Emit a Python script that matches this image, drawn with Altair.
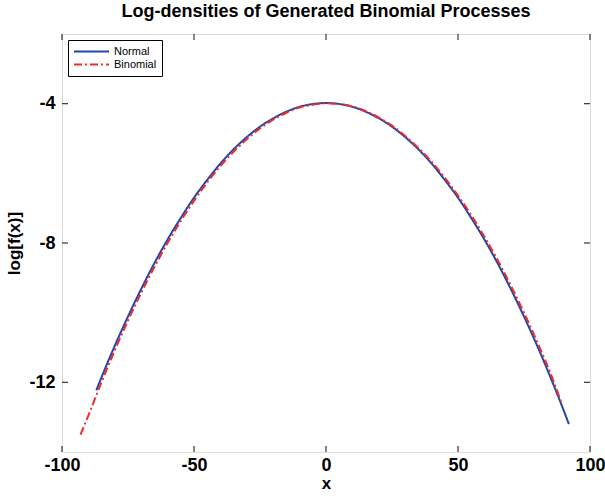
import altair as alt
import pandas as pd

# Normal log-density
normal_x = [-87, -85, -80, -75, -70, -65, -60, -55, -50, -45, -40, -35, -30, -25, -20, -15, -10, -5,
            0, 5, 10, 15, 20, 25, 30, 35, 40, 45, 50, 55, 60, 65, 70, 75, 80, 85, 90, 92]
normal_y = [-12.23, -11.85, -10.95, -10.11, -9.32, -8.58, -7.90, -7.28, -6.70, -6.19, -5.72, -5.31,
            -4.96, -4.66, -4.42, -4.23, -4.09, -4.01, -3.98, -4.01, -4.09, -4.23, -4.42, -4.66, -4.96,
            -5.31, -5.72, -6.19, -6.70, -7.28, -7.90, -8.58, -9.32, -10.11, -10.95, -11.85, -12.80, -13.20]

# Binomial log-density
binom_x = [-93, -90, -85, -80, -75, -70, -65, -60, -55, -50, -45, -40, -35, -30, -25, -20, -15, -10, -5,
           0, 5, 10, 15, 20, 25, 30, 35, 40, 45, 50, 55, 60, 65, 70, 75, 80, 85, 89]
binom_y = [-13.50, -12.95, -11.99, -11.08, -10.23, -9.43, -8.69, -8.00, -7.37, -6.79, -6.26, -5.79,
           -5.38, -5.02, -4.71, -4.46, -4.26, -4.11, -4.03, -3.99, -4.01, -4.08, -4.21, -4.40, -4.63,
           -4.93, -5.27, -5.67, -6.13, -6.64, -7.20, -7.82, -8.49, -9.22, -10.00, -10.84, -11.73, -12.55]

x_ticks = [-100, -50, 0, 50, 100]
y_ticks = [-12, -8, -4]
series_names = ["Normal", "Binomial"]
series_colors = ["#2347a8", "#ef2b2d"]
series_dash = [[1, 0], [8, 3, 2, 3]]

W, H = 528, 418
FONT = "Liberation Sans"
LABEL_EXPR = "datum.value < 0 ? '-' + abs(datum.value) : '' + datum.value"

df = pd.concat([
    pd.DataFrame({"x": normal_x, "y": normal_y, "series": "Normal", "order": range(len(normal_x))}),
    pd.DataFrame({"x": binom_x, "y": binom_y, "series": "Binomial", "order": range(len(binom_x))}),
])

xscale = alt.Scale(domain=[-100, 100], nice=False, zero=False)
yscale = alt.Scale(domain=[-14, -2], nice=False, zero=False)

legend = alt.Legend(orient="none", legendX=6, legendY=6, title=None,
                    symbolType="stroke", symbolSize=1225, symbolStrokeWidth=2, clipHeight=13,
                    labelFont=FONT, labelFontSize=11, labelColor="black", labelOffset=4,
                    padding=5, strokeColor="black", fillColor="white", cornerRadius=0,
                    rowPadding=0)

lines = alt.Chart(df).mark_line(strokeWidth=2, interpolate="monotone").encode(
    x=alt.X("x:Q", scale=xscale, title="x",
            axis=alt.Axis(values=x_ticks, ticks=False, domain=False, grid=False,
                          labelExpr=LABEL_EXPR, labelFlush=False, labelOverlap=False,
                          labelFont=FONT, labelFontSize=18, labelFontWeight="bold",
                          labelColor="black", labelPadding=4,
                          titleFont=FONT, titleFontSize=17, titleFontWeight="bold",
                          titleColor="black", titlePadding=1)),
    y=alt.Y("y:Q", scale=yscale, title="log[f(x)]",
            axis=alt.Axis(values=y_ticks, ticks=False, domain=False, grid=False,
                          labelExpr=LABEL_EXPR, labelFlush=False,
                          labelFont=FONT, labelFontSize=18, labelFontWeight="bold",
                          labelColor="black", labelPadding=7,
                          titleFont=FONT, titleFontSize=17, titleFontWeight="bold",
                          titleColor="black", titlePadding=5)),
    color=alt.Color("series:N", scale=alt.Scale(domain=series_names, range=series_colors),
                    legend=legend),
    strokeDash=alt.StrokeDash("series:N", scale=alt.Scale(domain=series_names, range=series_dash),
                              legend=legend),
    order="order:Q",
)

xt = pd.DataFrame({"v": x_ticks})
yt = pd.DataFrame({"v": y_ticks})
tick_color = "#333333"
bottom_ticks = alt.Chart(xt).mark_rule(color=tick_color, strokeWidth=1.2).encode(
    x=alt.X("v:Q", scale=xscale), y=alt.value(H), y2=alt.value(H - 6))
top_ticks = alt.Chart(xt).mark_rule(color=tick_color, strokeWidth=1.2).encode(
    x=alt.X("v:Q", scale=xscale), y=alt.value(0), y2=alt.value(6))
left_ticks = alt.Chart(yt).mark_rule(color=tick_color, strokeWidth=1.2).encode(
    y=alt.Y("v:Q", scale=yscale), x=alt.value(0), x2=alt.value(6))
right_ticks = alt.Chart(yt).mark_rule(color=tick_color, strokeWidth=1.2).encode(
    y=alt.Y("v:Q", scale=yscale), x=alt.value(W), x2=alt.value(W - 6))

chart = alt.layer(lines, bottom_ticks, top_ticks, left_ticks, right_ticks).properties(
    width=W, height=H,
    title=alt.TitleParams("Log-densities of Generated Binomial Processes", font=FONT,
                          fontSize=18, fontWeight="bold", color="black", offset=12,
                          anchor="middle"),
    autosize=alt.AutoSizeParams(type="none"),
    padding={"left": 62, "top": 34, "right": 15, "bottom": 44},
).configure_view(
    stroke="#333333", strokeWidth=1.5
).configure(background="white")

chart.save("out.html", embed_options={"renderer": "svg", "actions": False})
